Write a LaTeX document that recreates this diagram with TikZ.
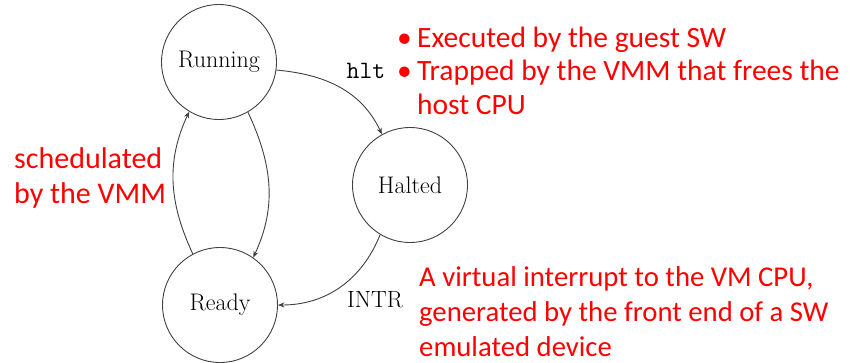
\documentclass[tikz,border=0pt]{standalone}
\usepackage{fontspec}
\newfontfamily\notefont{Carlito}
\usetikzlibrary{arrows.meta}

\begin{document}
\begin{tikzpicture}[x=1pt,y=1pt,
  state/.style={circle,draw=black!75,line width=0.9pt,minimum size=115pt,inner sep=0pt,
                font=\fontsize{24}{28}\selectfont},
  trans/.style={draw=black!75,line width=0.9pt,-{Stealth[length=6.5pt,width=5pt]}},
  note/.style={text=red,font=\notefont\fontsize{29.5}{34}\selectfont,inner sep=0pt,
               anchor=base west,align=left},
  edgelabel/.style={font=\fontsize{23.5}{26}\selectfont,inner sep=0pt}]
  \useasboundingbox (0,0) rectangle (850,-362);

  % states of the virtual CPU
  \node[state] (run) at (219,-62)  {Running};
  \node[state] (hal) at (410,-185) {Halted};
  \node[state] (rdy) at (220,-305) {Ready};

  % transitions
  \draw[trans] (run.-8)   to[out=-5,in=115]   (hal.119);
  \draw[trans] (run.-60)  to[out=-65,in=65]   (rdy.55);
  \draw[trans] (rdy.118)  to[out=115,in=-115] (run.-121);
  \draw[trans] (hal.-121) to[out=-112,in=0]   (rdy.east);

  \node[edgelabel,font=\fontsize{25}{28}\ttfamily] (hlt) at (366,-71) {hlt};
  \node[edgelabel] (intr) at (375,-300) {INTR};

  % annotations (anchored at the baseline of their last line)
  \node[note] (b1) at (397,-47)  {\textbullet};
  \node[note] (t1) at (417,-47)  {Executed by the guest SW};
  \node[note] (b2) at (397,-80)  {\textbullet};
  \node[note] (t2) at (417,-114) {Trapped by the VMM that frees the\\host CPU};
  \node[note,font=\notefont\fontsize{30}{35}\selectfont] (sched) at (14,-203) {schedulated\\by the VMM};
  \node[note,font=\notefont\fontsize{28.7}{35}\selectfont] (virq) at (419,-356) {A virtual interrupt to the VM CPU,\\generated by the front end of a SW\\emulated device};
\end{tikzpicture}
\end{document}
